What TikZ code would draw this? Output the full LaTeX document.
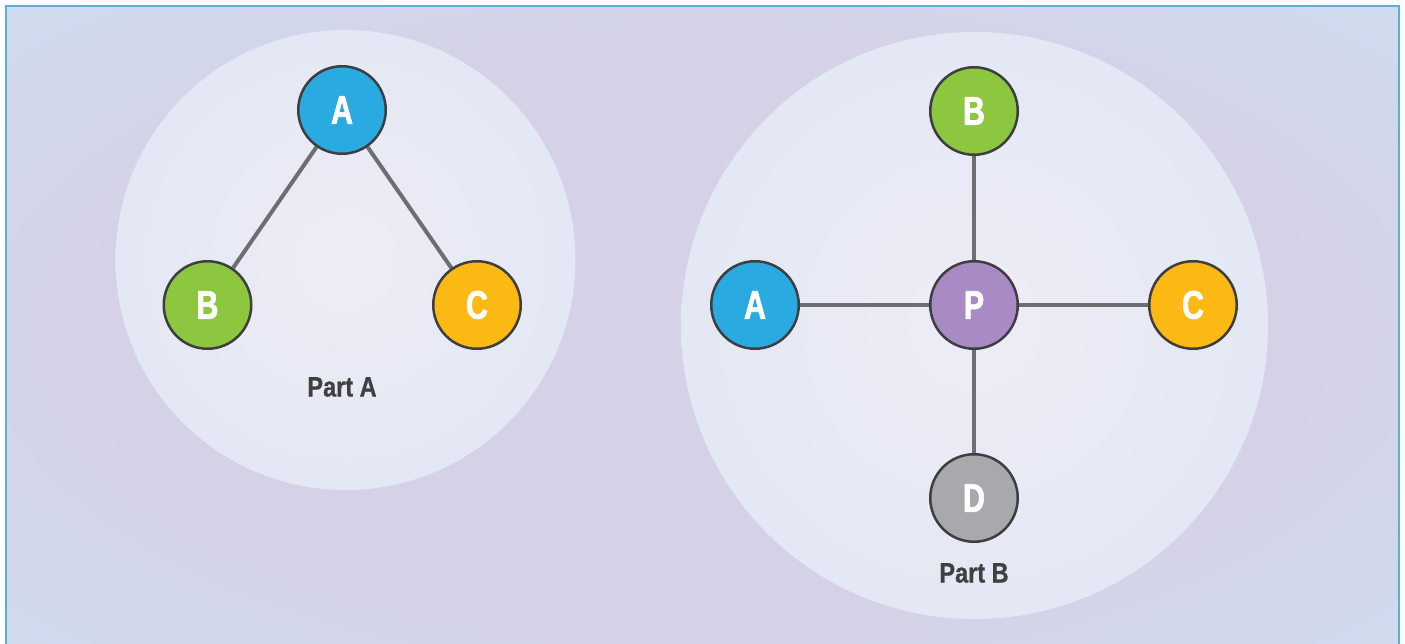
\documentclass[tikz,border=0pt]{standalone}
\usepackage{fontspec}
\newfontfamily\nodefont{Liberation Sans Bold}[FakeStretch=0.76, FakeBold=1.6]
\newfontfamily\labfont{Liberation Sans Bold}[FakeStretch=0.84, FakeBold=0.8]
\definecolor{bgout}{HTML}{CEDCEF}
\definecolor{bgin}{HTML}{D5D2E7}
\definecolor{frame}{HTML}{5AAFD6}
\definecolor{discin}{HTML}{EEECF6}
\definecolor{discout}{HTML}{E3E8F4}
\definecolor{cA}{HTML}{29ABE2}
\definecolor{cB}{HTML}{8DC63F}
\definecolor{cC}{HTML}{FDB913}
\definecolor{cP}{HTML}{A88BC4}
\definecolor{cD}{HTML}{A7A9AC}
\definecolor{ring}{HTML}{3E3E40}
\definecolor{edge}{HTML}{6D6E71}
\definecolor{labtxt}{HTML}{404041}
\pgfdeclareradialshading{bgshade}{\pgfpoint{0bp}{0bp}}{color(0bp)=(bgin); color(22bp)=(bgin); color(37bp)=(bgout); color(50bp)=(bgout)}
\pgfdeclarelayer{back}
\pgfdeclarelayer{edgelayer}
\pgfsetlayers{back,edgelayer,main}
\tikzset{
  ball/.style={circle, draw=ring, line width=2.5pt, minimum size=87.5pt, inner sep=0pt,
    text=white, font=\nodefont\fontsize{40}{40}\selectfont},
  link/.style={draw=edge, line width=4pt},
  partlab/.style={text=labtxt, font=\labfont\fontsize{28}{28}\selectfont},
}
\begin{document}
\begin{tikzpicture}[x=1pt,y=-1pt]
\useasboundingbox (0,0) rectangle (1405,643);
\clip (0,0) rectangle (1405,643);
\begin{pgfonlayer}{back}
\fill[white] (0,0) rectangle (1405,643);
\shade[shading=bgshade] (6,6) rectangle (1399,660);
\draw[frame, line width=2.5pt] (6,660) -- (6,6) -- (1399,6) -- (1399,660);
\shade[inner color=discin, outer color=discout] (345.5,260) circle (230);
\shade[inner color=discin, outer color=discout] (974.5,325.5) circle (293.5);
\end{pgfonlayer}
% Part A
\node[ball, fill=cA] (aA) at (342,110) {A};
\node[ball, fill=cB] (aB) at (207.5,305) {B};
\node[ball, fill=cC] (aC) at (477,305) {C};
\node[partlab] (labA) at (342,387) {Part A};
% Part B
\node[ball, fill=cP] (bP) at (974,305) {P};
\node[ball, fill=cB] (bB) at (974,111) {B};
\node[ball, fill=cA] (bA) at (755,305) {A};
\node[ball, fill=cC] (bC) at (1193,305) {C};
\node[ball, fill=cD] (bD) at (974,498) {D};
\node[partlab] (labB) at (974,573) {Part B};
\begin{pgfonlayer}{edgelayer}
\path[link] (aA) -- (aB);
\path[link] (aA) -- (aC);
\path[link] (bP) -- (bB);
\path[link] (bP) -- (bA);
\path[link] (bP) -- (bC);
\path[link] (bP) -- (bD);
\end{pgfonlayer}
\end{tikzpicture}
\end{document}
